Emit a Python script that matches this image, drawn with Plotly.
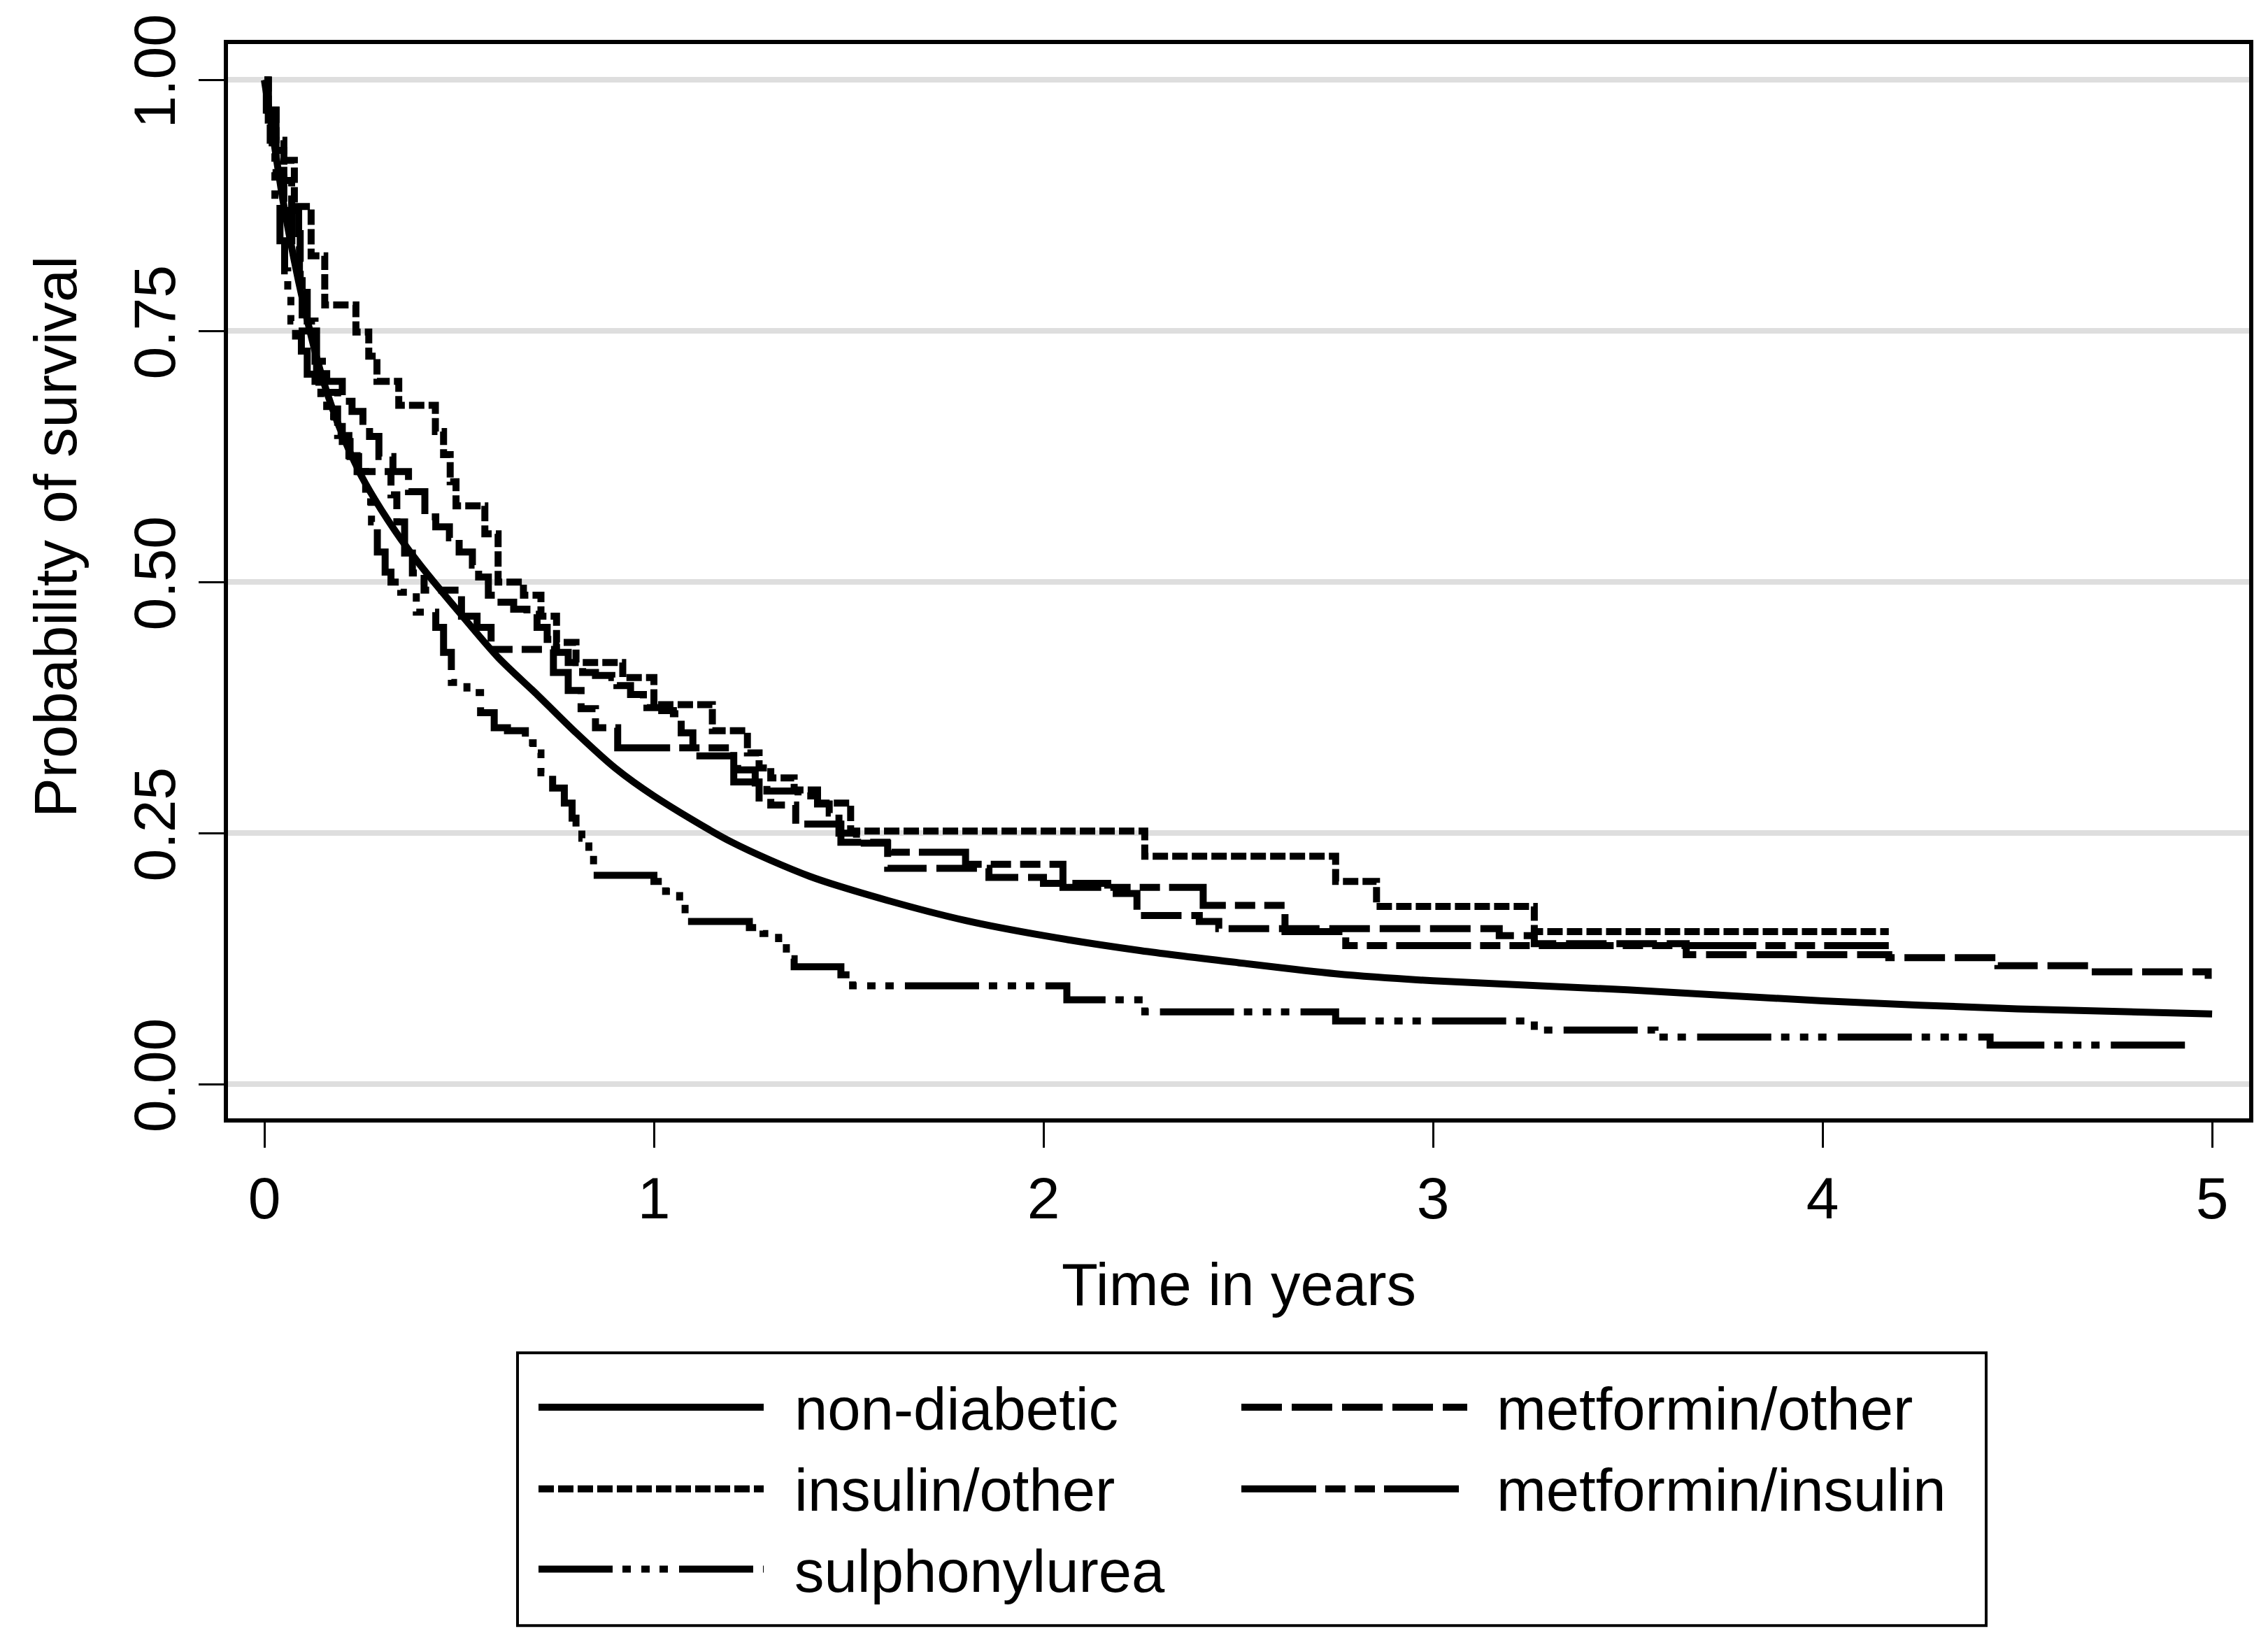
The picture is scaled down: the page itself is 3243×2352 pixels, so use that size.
import plotly.graph_objects as go

# ---------------- data ----------------
group_names = ["non-diabetic", "metformin/other", "insulin/other", "metformin/insulin", "sulphonylurea"]

nondiab_t = [0, 0.02, 0.05, 0.10, 0.15, 0.20, 0.25, 0.30, 0.35, 0.40, 0.50, 0.60, 0.70, 0.80, 0.90,
             1.00, 1.20, 1.40, 1.60, 1.80, 2.00, 2.25, 2.50, 2.75, 3.00, 3.50, 4.00, 4.50, 5.00]
nondiab_s = [1.0, 0.95, 0.875, 0.778, 0.702, 0.647, 0.605, 0.572, 0.543, 0.517, 0.47, 0.425, 0.388, 0.35, 0.315,
             0.287, 0.241, 0.207, 0.183, 0.163, 0.148, 0.133, 0.121, 0.110, 0.103, 0.094, 0.083, 0.075, 0.070]

metoth_t = [0, 0.005, 0.015, 0.03, 0.05, 0.07, 0.09, 0.11, 0.13, 0.16, 0.20, 0.225, 0.253, 0.27, 0.294,
            0.33, 0.37, 0.412, 0.44, 0.475, 0.50, 0.534, 0.55, 0.575, 0.597, 0.64, 0.674, 0.70, 0.726,
            0.75, 0.78, 0.817, 0.85, 0.892, 0.905, 0.94, 0.973, 0.982, 1.02, 1.05, 1.07, 1.10, 1.215,
            1.26, 1.29, 1.37, 1.42, 1.45, 1.475, 1.52, 1.60, 1.86, 2.00, 2.165, 2.24, 2.40, 2.45,
            3.17, 3.26, 3.65, 4.17, 4.45, 4.70, 4.99]
metoth_s = [1.0, 0.97, 0.94, 0.91, 0.87, 0.84, 0.80, 0.76, 0.72, 0.70, 0.68, 0.67, 0.66, 0.645, 0.625,
            0.61, 0.59, 0.565, 0.555, 0.544, 0.53, 0.517, 0.505, 0.487, 0.48, 0.473, 0.468, 0.455, 0.443,
            0.43, 0.42, 0.41, 0.407, 0.405, 0.397, 0.388, 0.38, 0.375, 0.372, 0.369, 0.35, 0.327, 0.313,
            0.30, 0.292, 0.287, 0.279, 0.27, 0.25, 0.24, 0.215, 0.206, 0.20, 0.19, 0.168, 0.162, 0.155,
            0.148, 0.14, 0.129, 0.126, 0.118, 0.112, 0.105]

insoth_t = [0, 0.01, 0.03, 0.05, 0.077, 0.12, 0.155, 0.235, 0.268, 0.289, 0.345, 0.439, 0.46, 0.477,
            0.492, 0.566, 0.60, 0.665, 0.71, 0.75, 0.80, 0.92, 1.00, 1.15, 1.24, 1.27, 1.30, 1.36, 1.42,
            1.505, 2.26, 2.75, 2.855, 3.26, 4.17]
insoth_s = [1.0, 0.97, 0.94, 0.92, 0.874, 0.825, 0.776, 0.749, 0.725, 0.70, 0.676, 0.65, 0.627, 0.60,
            0.576, 0.548, 0.50, 0.487, 0.466, 0.44, 0.42, 0.405, 0.378, 0.352, 0.33, 0.315, 0.305, 0.293, 0.28,
            0.252, 0.227, 0.202, 0.177, 0.152, 0.152]

metins_t = [0, 0.01, 0.03, 0.05, 0.07, 0.088, 0.092, 0.097, 0.134, 0.14, 0.188, 0.217, 0.238, 0.325,
            0.34, 0.36, 0.38, 0.41, 0.506, 0.546, 0.582, 0.742, 0.78, 0.813, 0.85, 0.907, 1.205, 1.27,
            1.30, 1.364, 1.48, 1.61, 1.80, 2.05, 2.41, 2.62, 2.776, 4.17]
metins_s = [1.0, 0.97, 0.93, 0.90, 0.87, 0.847, 0.80, 0.75, 0.714, 0.689, 0.646, 0.626, 0.61, 0.587,
            0.56, 0.529, 0.509, 0.492, 0.466, 0.455, 0.433, 0.41, 0.392, 0.374, 0.355, 0.335, 0.301, 0.285,
            0.278, 0.259, 0.241, 0.231, 0.219, 0.196, 0.178, 0.152, 0.138, 0.138]

sulph_t = [0, 0.01, 0.02, 0.027, 0.04, 0.052, 0.06, 0.068, 0.08, 0.095, 0.11, 0.13, 0.145, 0.16, 0.18,
           0.20, 0.22, 0.242, 0.26, 0.275, 0.29, 0.31, 0.325, 0.35, 0.39, 0.44, 0.46, 0.48, 0.52, 0.555,
           0.59, 0.624, 0.67, 0.69, 0.71, 0.74, 0.77, 0.79, 0.80, 0.815, 0.833, 0.845, 1.00, 1.03, 1.066,
           1.08, 1.245, 1.28, 1.32, 1.34, 1.36, 1.48, 1.51, 2.06, 2.26, 2.75, 3.26, 3.57, 4.43, 4.94]
sulph_s = [1.0, 0.96, 0.93, 0.88, 0.84, 0.81, 0.79, 0.76, 0.745, 0.73, 0.707, 0.70, 0.68, 0.665, 0.655,
           0.64, 0.625, 0.61, 0.58, 0.56, 0.53, 0.51, 0.50, 0.49, 0.47, 0.455, 0.43, 0.40, 0.39, 0.37,
           0.355, 0.352, 0.34, 0.33, 0.31, 0.295, 0.28, 0.265, 0.255, 0.245, 0.23, 0.208, 0.202, 0.192, 0.18,
           0.162, 0.156, 0.15, 0.145, 0.125, 0.117, 0.109, 0.098, 0.084, 0.072, 0.063, 0.054, 0.047, 0.039, 0.039]

x_ticks = [0, 1, 2, 3, 4, 5]
x_ticktext = ["0", "1", "2", "3", "4", "5"]
y_ticks = [0, 0.25, 0.5, 0.75, 1.0]
y_ticktext = ["0.00", "0.25", "0.50", "0.75", "1.00"]

x_title = "Time in years"
y_title = "Probability of survival"

# ---------------- styles ----------------
FONT = "Liberation Sans, Arial, sans-serif"
FS = 85
TFS = 84
LW = 10
dashes = {
    "non-diabetic": "solid",
    "metformin/other": "58px,14px",
    "insulin/other": "22px,6px",
    "metformin/insulin": "107px,13px,29px,13px,29px,13px",
    "sulphonylurea": "106px,14px,12px,15px,12px,14px,12px,16px",
}

W, H = 3227, 2336
L, R, T, B = 318, 3208, 51.5, 1591


def px(x):
    return (x - L) / (R - L)


def py(y):
    return (B - y) / (B - T)


series = {
    "non-diabetic": (nondiab_t, nondiab_s, "spline"),
    "metformin/other": (metoth_t, metoth_s, "hv"),
    "insulin/other": (insoth_t, insoth_s, "hv"),
    "metformin/insulin": (metins_t, metins_s, "hv"),
    "sulphonylurea": (sulph_t, sulph_s, "hv"),
}

fig = go.Figure()
for name in group_names:
    t, s, shape = series[name]
    fig.add_trace(go.Scatter(
        x=t, y=s, mode="lines", name=name, showlegend=False,
        line=dict(color="black", width=LW, dash=dashes[name], shape=shape,
                  smoothing=0.8 if shape == "spline" else None),
    ))

# ---------------- manual legend ----------------
shapes = []
annotations = []
shapes.append(dict(type="rect", xref="paper", yref="paper",
                   x0=px(732), x1=px(2832), y0=py(2318), y1=py(1927),
                   line=dict(color="black", width=4), fillcolor="white", layer="above"))
cols_line = [(762, 1084), (1767, 2090)]
cols_text = [1126, 2130]
rows_line = [2005, 2122, 2237]
rows_base = [2037, 2154, 2270]
for i, name in enumerate(group_names):
    r, c = divmod(i, 2)
    x0, x1 = cols_line[c]
    shapes.append(dict(type="line", xref="paper", yref="paper",
                       x0=px(x0), x1=px(x1), y0=py(rows_line[r]), y1=py(rows_line[r]),
                       line=dict(color="black", width=LW, dash=dashes[name]), layer="above"))
    annotations.append(dict(text=name, xref="paper", yref="paper",
                            x=px(cols_text[c]), y=py(rows_base[r] - 30),
                            xanchor="left", yanchor="middle", showarrow=False,
                            font=dict(family=FONT, size=FS, color="black")))

# axis titles
annotations.append(dict(text=y_title, xref="paper", yref="paper", x=px(72), y=py(758),
                        textangle=-90, xanchor="center", yanchor="middle", showarrow=False,
                        font=dict(family=FONT, size=FS, color="black")))
annotations.append(dict(text=x_title, xref="paper", yref="paper", x=0.5, y=py(1829),
                        xanchor="center", yanchor="middle", showarrow=False,
                        font=dict(family=FONT, size=FS, color="black")))

fig.update_layout(
    width=W, height=H,
    margin=dict(l=L, r=W - R, t=T, b=H - B, pad=0),
    paper_bgcolor="white", plot_bgcolor="white",
    font=dict(family=FONT, size=FS, color="black"),
    shapes=shapes, annotations=annotations, showlegend=False,
    xaxis=dict(range=[-0.0934, 5.095], tickvals=x_ticks, ticktext=x_ticktext,
               showgrid=False, zeroline=False, showline=True, linecolor="black", linewidth=6,
               mirror=True, ticks="outside", ticklen=36, tickwidth=3, tickcolor="black",
               tickfont=dict(family=FONT, size=TFS, color="black")),
    yaxis=dict(range=[-0.034, 1.0358], tickvals=y_ticks, ticktext=y_ticktext,
               showgrid=True, gridcolor="#dedede", gridwidth=8, zeroline=False,
               showline=True, linecolor="black", linewidth=6, mirror=True,
               ticks="outside", ticklen=36, tickwidth=3, tickcolor="black", tickangle=-90,
               tickfont=dict(family=FONT, size=TFS, color="black")),
)

fig.write_html("out.html")
